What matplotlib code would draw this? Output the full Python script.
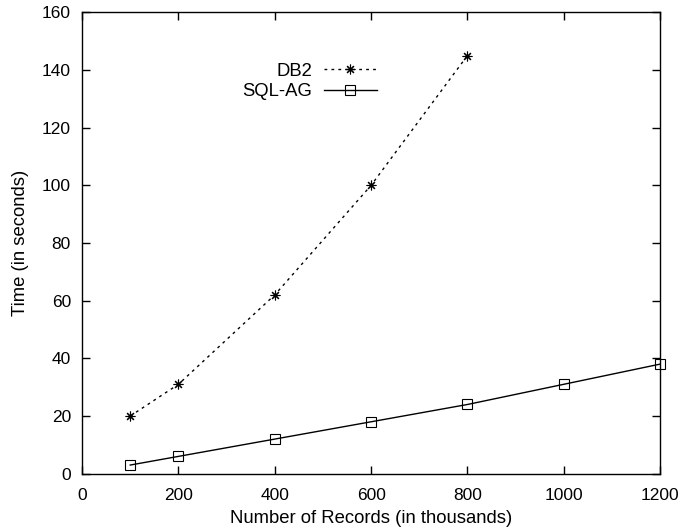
import matplotlib
matplotlib.use("Agg")
import matplotlib.pyplot as plt

plt.rcParams['font.family'] = ['Liberation Sans', 'DejaVu Sans']

db2_x = [100, 200, 400, 600, 800]
db2_y = [20, 31, 62, 100, 145]
sql_x = [100, 200, 400, 600, 800, 1000, 1200]
sql_y = [3, 6, 12, 18, 24, 31, 38]
xticks = [0, 200, 400, 600, 800, 1000, 1200]
yticks = [0, 20, 40, 60, 80, 100, 120, 140, 160]

fig = plt.figure(figsize=(6.84, 5.32), dpi=100)
ax = fig.add_axes([0.12, 0.1096, 0.845, 0.8672])

ax.plot(db2_x, db2_y, color='black', linestyle=(0, (2, 3)), linewidth=1,
        marker=(8, 2, 0), markersize=7, markeredgewidth=0.8, label='DB2', clip_on=False)
ax.plot(sql_x, sql_y, color='black', linestyle='-', linewidth=1,
        marker='s', markersize=7, markerfacecolor='none', markeredgewidth=0.8,
        label='SQL-AG', clip_on=False)

ax.set_xlim(0, 1200)
ax.set_ylim(0, 160)
ax.set_xticks(xticks)
ax.set_yticks(yticks)
ax.tick_params(direction='in', top=True, right=True, length=6, width=1, labelsize=12.5)
ax.tick_params(axis='x', pad=10)
ax.tick_params(axis='y', pad=8)
for s in ax.spines.values():
    s.set_linewidth(1)
ax.set_xlabel('Number of Records (in thousands)', fontsize=13.3, labelpad=5)
ax.set_ylabel('Time (in seconds)', fontsize=13.3, labelpad=9)

leg = ax.legend(loc='upper left', bbox_to_anchor=(0.248, 0.927), frameon=False,
                markerfirst=False, fontsize=13.3, handlelength=2.87, handletextpad=0.65,
                labelspacing=0.2)
for t in leg.get_texts():
    t.set_ha('right')

fig.savefig('out.png', dpi=100)
